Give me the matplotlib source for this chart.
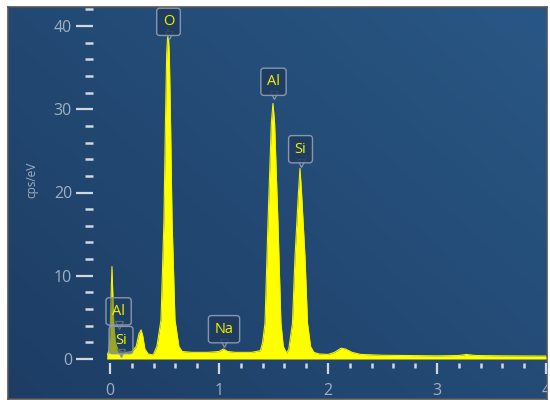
import matplotlib
matplotlib.use('Agg')
import matplotlib.pyplot as plt
import numpy as np
from matplotlib.ticker import MultipleLocator

# spectrum outline (energy in keV, intensity in cps/eV)
energy = [-0.03, -0.01, 0.00, 0.01, 0.018, 0.025, 0.035, 0.05, 0.07, 0.10,
          0.15, 0.20, 0.24, 0.265, 0.285, 0.30, 0.32, 0.35, 0.39,
          0.40, 0.43, 0.468, 0.495, 0.509, 0.520, 0.532, 0.544, 0.555, 0.569, 0.596, 0.632, 0.662,
          0.75, 0.90, 1.00, 1.04, 1.08, 1.15, 1.30, 1.38,
          1.40, 1.422, 1.449, 1.480, 1.495, 1.510, 1.541, 1.568, 1.59, 1.62,
          1.64, 1.674, 1.697, 1.729, 1.743, 1.757, 1.789, 1.812, 1.84, 1.87,
          1.92, 2.00, 2.06, 2.12, 2.16, 2.22, 2.30, 2.50, 3.00, 3.20, 3.27, 3.35, 3.60, 4.00]
counts = [0.3, 1.0, 3.0, 7.5, 11.1, 8.0, 4.0, 2.0, 1.2, 0.9,
          0.8, 0.9, 1.5, 3.0, 3.5, 2.8, 1.2, 0.6, 0.5,
          0.6, 1.5, 4.7, 16.7, 28.7, 36.7, 39.6, 36.7, 28.7, 16.7, 4.7, 1.5, 0.9,
          0.8, 0.8, 0.9, 1.2, 0.9, 0.8, 0.8, 1.0,
          2.0, 4.3, 16.3, 28.3, 30.7, 28.3, 16.3, 4.3, 1.5, 0.7,
          1.2, 4.3, 12.2, 20.0, 22.9, 20.0, 12.2, 4.3, 1.5, 0.8,
          0.6, 0.55, 0.8, 1.3, 1.2, 0.8, 0.55, 0.45, 0.38, 0.42, 0.55, 0.42, 0.38, 0.35]

# element labels and the energies they mark
labels = ['O', 'Al', 'Si', 'Na', 'Al', 'Si']
label_x = [0.537, 1.50, 1.748, 1.046, 0.079, 0.101]
label_y = [40.5, 33.3, 25.2, 3.58, 5.72, 2.28]
label_alpha = [0.85, 0.85, 0.85, 0.85, 0.45, 0.45]

W, H = 550, 408
fig = plt.figure(figsize=(W / 100, H / 100), dpi=100)
fig.patch.set_facecolor('white')

# blue panel with a soft gradient
bg = fig.add_axes([8 / W, 1 - 399 / H, 539 / W, 392 / H])
gx, gy = np.meshgrid(np.linspace(0, 1, 200), np.linspace(0, 1, 200))
t = 0.55 * gx + 0.45 * gy
c0 = np.array([0x1d, 0x3d, 0x64]) / 255
c1 = np.array([0x29, 0x57, 0x85]) / 255
img = c0[None, None, :] * (1 - t[..., None]) + c1[None, None, :] * t[..., None]
bg.imshow(img, origin='lower', aspect='auto', extent=[0, 1, 0, 1])
bg.set_xticks([])
bg.set_yticks([])
for s in bg.spines.values():
    s.set_color('#555555')
    s.set_linewidth(1.2)

# main plotting axes
x0, x1 = -0.03, 4.0
px0 = 110 + x0 * 109
px1 = 110 + x1 * 109
ytop = (359 - 8) / 8.325
ax = fig.add_axes([px0 / W, 1 - 359 / H, (px1 - px0) / W, (359 - 8) / H])
ax.patch.set_alpha(0)
ax.fill_between(energy, counts, 0, color='#ffff00', lw=0)
ax.plot(energy, counts, color='#f4f400', lw=0.8)
ax.set_xlim(x0, x1)
ax.set_ylim(0, ytop)

tick_color = '#d0d7e0'
lab_color = '#9fb0c4'
for s in ['top', 'right']:
    ax.spines[s].set_visible(False)
ax.spines['left'].set_position(('outward', 10))
ax.spines['bottom'].set_position(('outward', 3))
ax.spines['left'].set_visible(False)
ax.spines['bottom'].set_visible(False)

ax.xaxis.set_major_locator(MultipleLocator(1))
ax.xaxis.set_minor_locator(MultipleLocator(0.2))
ax.yaxis.set_major_locator(MultipleLocator(10))
ax.yaxis.set_minor_locator(MultipleLocator(2))
ax.set_yticks([0, 10, 20, 30, 40])
ax.tick_params(axis='x', which='major', length=8, width=1.6, color=tick_color,
               labelcolor=lab_color, labelsize=11.5, pad=6)
ax.tick_params(axis='x', which='minor', length=3.5, width=1.8, color=tick_color)
ax.tick_params(axis='y', which='major', length=12, width=1.6, color=tick_color,
               labelcolor=lab_color, labelsize=11.5, pad=3)
ax.tick_params(axis='y', which='minor', length=6, width=1.8, color=tick_color)
for lab in ax.get_xticklabels() + ax.get_yticklabels():
    lab.set_fontfamily('Open Sans')
    lab.set_clip_on(True)
    lab.set_clip_box(bg.bbox)

fig.text(32 / W, 1 - 180 / H, 'cps/eV', rotation=90, color=lab_color,
         fontsize=8.5, family='Open Sans', ha='center', va='center')

# callout labels with a small notch pointing down
for name, lx, ly, a in zip(labels, label_x, label_y, label_alpha):
    ax.text(lx, ly, name, color='#f2f200', fontsize=10.5, family='Open Sans',
            ha='center', va='center', zorder=5,
            bbox=dict(boxstyle='round,pad=0.42,rounding_size=0.2',
                      facecolor=(0.12, 0.23, 0.37, a), edgecolor='#8697ad', lw=1))
    ax.plot(lx, ly - 1.6, marker='v', ms=6, mfc=(0.12, 0.23, 0.37, a),
            mec='#8697ad', mew=0.9, zorder=4, clip_on=False)

fig.savefig('out.png', dpi=100)
